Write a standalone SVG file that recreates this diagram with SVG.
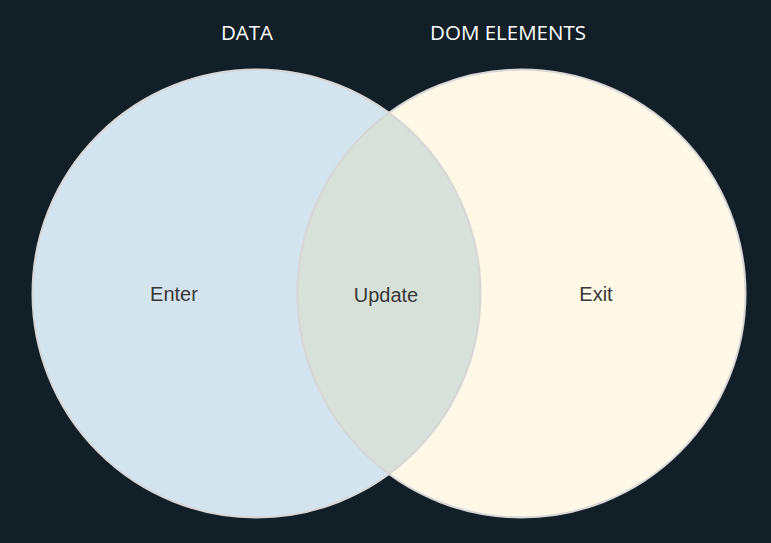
<svg xmlns="http://www.w3.org/2000/svg" width="771" height="543" viewBox="0 0 771 543">
<style>
.title{font-family:"Open Sans","Noto Sans",sans-serif;font-size:20.5px;fill:#ffffff;text-anchor:middle}
.lbl{font-family:"Liberation Sans",Arial,sans-serif;font-size:20px;fill:#383838;text-anchor:middle}
.c{stroke:#d6d6d6;stroke-width:2}
</style>
<rect width="771" height="543" fill="#121f27"/>
<g id="data">
<circle class="c" cx="256.5" cy="293.5" r="224" fill="#d4e4ef"/>
</g>
<g id="dom">
<circle class="c" cx="521.5" cy="293.5" r="224" fill="#fff8e6"/>
</g>
<g id="update">
<path class="c" d="M389,112.9 A224,224 0 0,1 389,474.1 A224,224 0 0,1 389,112.9 Z" fill="#d8e1d9" stroke="#d3d3c8"/>
</g>
<g id="labels">
<text class="title" x="247" y="40">DATA</text>
<text class="title" x="508" y="40">DOM ELEMENTS</text>
<text class="lbl" x="174" y="301">Enter</text>
<text class="lbl" x="386" y="302">Update</text>
<text class="lbl" x="596" y="301">Exit</text>
</g>
<g id="connectors"></g>
</svg>
